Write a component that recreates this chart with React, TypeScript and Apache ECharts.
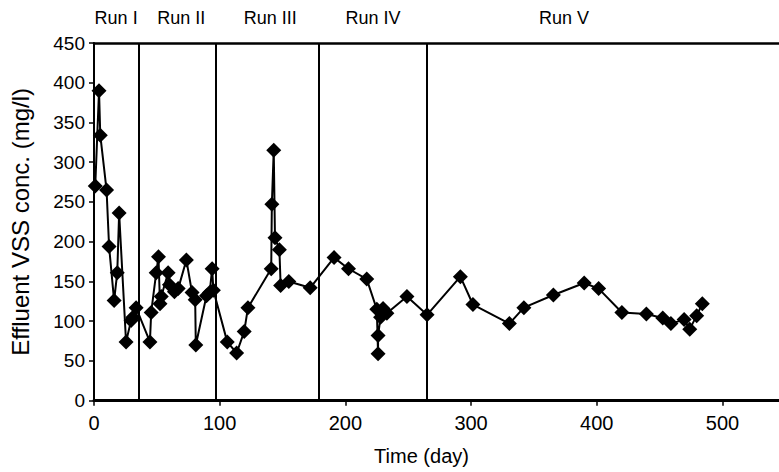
import React, { useEffect, useRef } from "react";
import * as echarts from "echarts";

const days: number[] = [
  1, 4, 5, 10, 12, 16, 18.5, 20, 25.5, 29.5, 31, 33.5,
  44.5, 45.5, 49.5, 51.3, 52.5, 53.5, 59, 60, 64, 67, 73.5, 78, 80.5, 81, 89.5, 92, 94, 95,
  106, 113.5, 119.5, 122.5, 141, 141.5, 143, 144, 147.5, 148.5, 155, 172,
  191, 202.5, 217, 225, 226, 226, 228, 230, 233, 249, 265,
  291.5, 301.5, 330.5, 342, 365.5, 390, 401.5, 420, 439.5, 452.5, 459, 469.5, 474, 479.5, 484,
];
const vss: number[] = [
  270, 390, 334, 265, 194, 126, 161, 236, 74, 101, 105, 117,
  74, 111, 161, 181, 122, 131, 161, 146, 137, 141, 177, 136, 127, 70, 132, 136, 166, 139,
  74, 60, 87, 117, 166, 247, 315, 205, 190, 145, 150, 142,
  180, 166, 153, 115, 59, 82, 105, 116, 110, 131, 108,
  156, 121, 97, 117, 133, 148, 141, 111, 109, 104, 97, 102, 90, 107, 122,
];
const runBoundaries: number[] = [36, 97, 179, 265];
const runLabels: string[] = ["Run I", "Run II", "Run III", "Run IV", "Run V"];
const runLabelDays: number[] = [17.6, 69.5, 140.2, 222, 374];
const xTicks: number[] = [0, 100, 200, 300, 400, 500];

export default function App() {
  const ref = useRef<HTMLDivElement>(null);
  useEffect(() => {
    document.body.style.margin = "0";
    const el = ref.current;
    if (!el) return;
    const chart = echarts.init(el, null, { renderer: "svg" });
    const font = "'Liberation Sans', Arial, sans-serif";
    const axisCommon = {
      min: 0,
      max: 545,
      interval: 100,
    };
    chart.setOption({
      animation: false,
      backgroundColor: "#fff",
      grid: { left: 92.5, right: 0, top: 43, bottom: 71.3, containLabel: false },
      xAxis: [
        {
          type: "value",
          ...axisCommon,
          position: "bottom",
          name: "Time (day)",
          nameLocation: "middle",
          nameGap: 45,
          nameTextStyle: { color: "#000", fontSize: 20, fontFamily: font, padding: [0, 30, 0, 0] },
          axisLine: { show: true, onZero: false, lineStyle: { color: "#000", width: 3 } },
          axisTick: { show: true, inside: false, length: 5, lineStyle: { color: "#000", width: 1.5 } },
          axisLabel: {
            color: "#000",
            fontSize: 20,
            fontFamily: font,
            margin: 12,
            showMaxLabel: false,
            formatter: (v: number) => (xTicks.includes(v) ? String(v) : ""),
          },
          splitLine: { show: false },
        },
        {
          type: "value",
          ...axisCommon,
          position: "top",
          axisLine: { show: true, onZero: false, lineStyle: { color: "#000", width: 2.5 } },
          axisTick: { show: false },
          axisLabel: { show: false },
          splitLine: { show: false },
        },
      ],
      yAxis: {
        type: "value",
        min: 0,
        max: 450,
        interval: 50,
        name: "Effluent VSS conc. (mg/l)",
        nameLocation: "middle",
        nameGap: 62,
        nameTextStyle: { color: "#000", fontSize: 24, fontFamily: font },
        axisLine: { show: true, lineStyle: { color: "#000", width: 2 } },
        axisTick: { show: true, inside: false, length: 5, lineStyle: { color: "#000", width: 1.5 } },
        axisLabel: { color: "#000", fontSize: 19, fontFamily: font, margin: 9 },
        splitLine: { show: false },
      },
      series: [
        {
          type: "line",
          data: days.map((d, i) => [d, vss[i]]),
          symbol: "diamond",
          symbolSize: 15,
          itemStyle: { color: "#000" },
          lineStyle: { color: "#000", width: 2 },
          z: 3,
          markLine: {
            silent: true,
            symbol: ["none", "none"],
            label: { show: false },
            lineStyle: { color: "#000", width: 2, type: "solid" },
            data: runBoundaries.map((b) => ({ xAxis: b })),
          },
        },
      ],
    });
    const graphic = runLabels.map((t, i) => ({
      type: "text",
      x: chart.convertToPixel({ xAxisIndex: 0 }, runLabelDays[i]) as number,
      y: 18,
      style: {
        text: t,
        fill: "#000",
        fontSize: 18,
        fontFamily: font,
        align: "center",
        verticalAlign: "middle",
      },
    }));
    chart.setOption({ graphic });
    return () => chart.dispose();
  }, []);
  return (
    <div
      ref={ref}
      style={{ position: "absolute", left: 0, top: 0, width: 779, height: 472 }}
    />
  );
}
